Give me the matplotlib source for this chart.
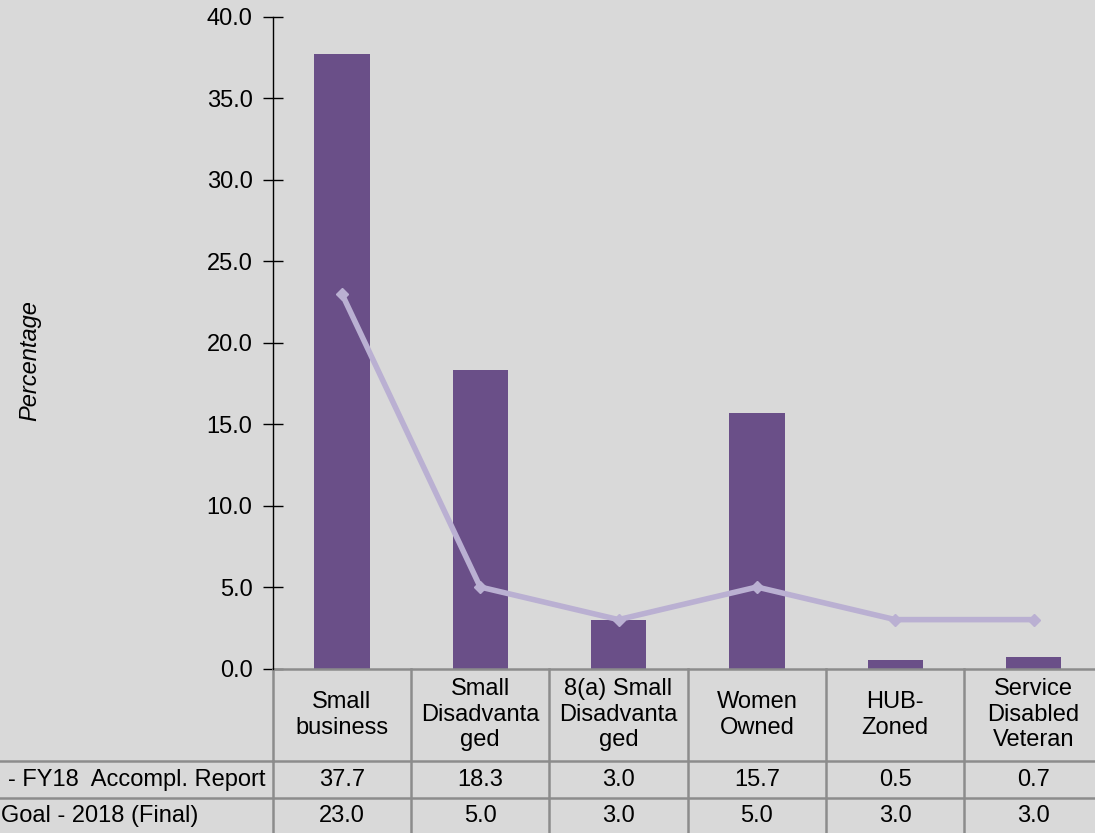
import matplotlib
matplotlib.use("Agg")
from matplotlib import pyplot as plt
from matplotlib import transforms
import numpy as np

plt.rcParams['font.family'] = ['Liberation Sans', 'DejaVu Sans']

categories = ["Small\nbusiness", "Small\nDisadvanta\nged", "8(a) Small\nDisadvanta\nged",
              "Women\nOwned", "HUB-\nZoned", "Service\nDisabled\nVeteran"]
accomplished = [37.7, 18.3, 3.0, 15.7, 0.5, 0.7]
goal = [23.0, 5.0, 3.0, 5.0, 3.0, 3.0]
# row labels as far as they show at the left edge
row_labels = ["- FY18  Accompl. Report", "Goal - 2018 (Final)"]
y_ticks = [0, 5, 10, 15, 20, 25, 30, 35, 40]

bg = '#d9d9d9'
bar_color = '#6a4f88'
line_color = '#bab0d2'
grid_color = '#8c8c8c'
fs = 17

W, H = 1095, 833
fig = plt.figure(figsize=(W / 100, H / 100), dpi=100, facecolor=bg)
ax_h = 651.8
ax = fig.add_axes([272.7 / W, 164.5 / H, 830 / W, ax_h / H])
ax.set_facecolor(bg)

x = np.arange(len(categories))
ax.bar(x, accomplished, width=0.4, color=bar_color, zorder=2)
ax.plot(x, goal, color=line_color, lw=4, marker='D', markersize=6, zorder=3)

ax.set_xlim(-0.5, len(categories) - 0.5)
ax.set_ylim(0, 40)
ax.set_yticks(y_ticks)
ax.set_yticklabels([f"{v:.1f}" for v in y_ticks], fontsize=fs)
ax.tick_params(axis='y', direction='inout', length=15, width=1, pad=7)
ax.set_xticks([])
for s in ['top', 'right', 'bottom']:
    ax.spines[s].set_visible(False)
ax.spines['left'].set_linewidth(1)

# data table under the axis
tr = transforms.blended_transform_factory(ax.transData, ax.transAxes)
y_head = -92.5 / ax_h
y_r1 = -129.5 / ax_h
y_r2 = -166.5 / ax_h
kw = dict(color=grid_color, lw=1.8, transform=tr, clip_on=False)
ax.plot([-0.5, 5.5], [0, 0], **kw)
ax.plot([-0.5, 5.5], [y_head, y_head], **kw)
for yy in [y_r1, y_r2]:
    ax.plot([-3, 5.5], [yy, yy], **kw)
ax.plot([-3, -0.5], [y_head, y_head], **kw)
for i in range(len(categories) + 1):
    ax.plot([i - 0.5, i - 0.5], [0, y_r2], **kw)

for i, cat in enumerate(categories):
    ax.text(i, y_head / 2, cat, transform=tr, ha='center', va='center',
            fontsize=fs, linespacing=1.22)
    ax.text(i, (y_head + y_r1) / 2, f"{accomplished[i]:.1f}", transform=tr,
            ha='center', va='center', fontsize=fs)
    ax.text(i, (y_r1 + y_r2) / 2, f"{goal[i]:.1f}", transform=tr,
            ha='center', va='center', fontsize=fs)

fig.text(265 / W, 1 - 780 / H, row_labels[0], ha='right', va='center', fontsize=fs)
fig.text(1 / W, 1 - 816 / H, row_labels[1], ha='left', va='center', fontsize=fs)

fig.text(30 / W, 1 - 361 / H, "Percentage", rotation=90, style='italic',
         ha='center', va='center', fontsize=fs)

fig.savefig("out.png", dpi=100, facecolor=bg)
